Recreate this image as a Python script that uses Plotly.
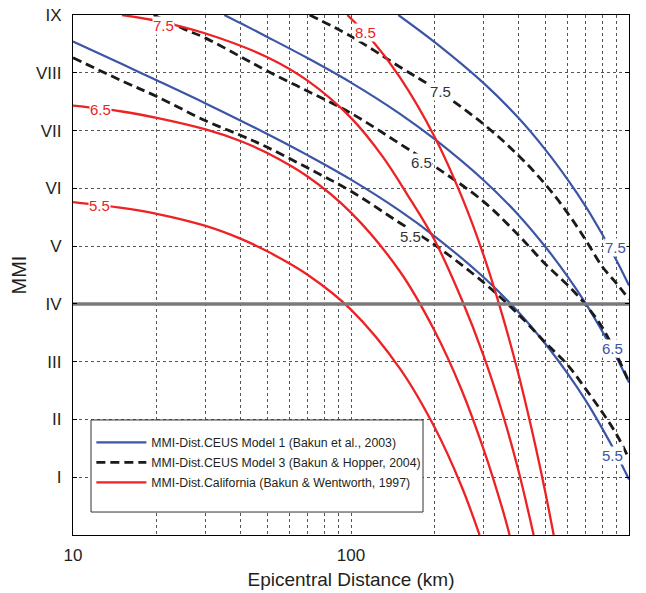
import math
import plotly.graph_objects as go

# ---------------- data ----------------
# MMI-Dist.CEUS Model 1 (Bakun et al., 2003) – blue
ceus1_m55_dist = [10, 15, 20, 30, 50, 70, 100, 150, 200, 300, 400, 500, 600, 700, 800, 900, 1000]
ceus1_m55_mmi = [8.54, 8.15, 7.87, 7.47, 6.94, 6.57, 6.15, 5.61, 5.17, 4.46, 3.86, 3.31, 2.80, 2.32, 1.85, 1.40, 0.96]
ceus1_m65_dist = [35, 40, 50, 70, 100, 150, 200, 300, 400, 500, 600, 700, 800, 900, 1000]
ceus1_m65_mmi = [9.0, 8.86, 8.62, 8.25, 7.83, 7.29, 6.85, 6.14, 5.54, 4.99, 4.48, 4.00, 3.53, 3.08, 2.64]
ceus1_m75_dist = [148, 200, 300, 400, 500, 600, 700, 800, 900, 1000]
ceus1_m75_mmi = [9.0, 8.53, 7.82, 7.22, 6.67, 6.16, 5.68, 5.21, 4.76, 4.32]

# MMI-Dist.CEUS Model 3 (Bakun & Hopper, 2004) – black dashed
ceus3_m55_dist = [10, 15, 20, 30, 40, 50, 70, 100, 150, 200, 300, 400, 500, 600, 700, 800, 900, 1000]
ceus3_m55_mmi = [8.26, 7.86, 7.59, 7.17, 6.92, 6.71, 6.35, 5.95, 5.40, 5.02, 4.37, 3.82, 3.33, 2.95, 2.52, 2.13, 1.75, 1.32]
ceus3_m65_dist = [19.5, 25, 30, 40, 50, 70, 100, 150, 200, 300, 400, 500, 600, 700, 800, 900, 1000]
ceus3_m65_mmi = [9.0, 8.76, 8.60, 8.28, 8.03, 7.68, 7.30, 6.77, 6.38, 5.77, 5.19, 4.69, 4.33, 3.98, 3.60, 3.13, 2.65]
ceus3_m75_dist = [71, 100, 150, 200, 300, 400, 500, 600, 700, 800, 900, 1000]
ceus3_m75_mmi = [9.0, 8.63, 8.10, 7.73, 7.11, 6.57, 6.07, 5.58, 5.10, 4.65, 4.36, 4.08]

# MMI-Dist.California (Bakun & Wentworth, 1997) – red
ca_m55_dist = [10, 15, 20, 30, 40, 50, 70, 100, 150, 200, 250, 290]
ca_m55_mmi = [5.76, 5.66, 5.56, 5.35, 5.13, 4.91, 4.50, 3.90, 2.88, 1.86, 0.84, 0.0]
ca_m65_dist = [10, 15, 20, 30, 40, 50, 70, 100, 150, 200, 250, 300, 350, 372]
ca_m65_mmi = [7.43, 7.33, 7.22, 7.02, 6.82, 6.61, 6.20, 5.58, 4.56, 3.53, 2.51, 1.48, 0.46, 0.0]
ca_m75_dist = [15, 20, 30, 50, 70, 100, 130, 160, 200, 250, 300, 350, 400, 454]
ca_m75_mmi = [9.0, 8.90, 8.68, 8.27, 7.86, 7.22, 6.55, 5.88, 5.10, 4.08, 3.10, 2.12, 1.12, 0.0]
ca_m85_dist = [97, 120, 150, 200, 250, 300, 350, 400, 450, 500, 536]
ca_m85_mmi = [9.0, 8.54, 7.92, 6.89, 5.86, 4.84, 3.81, 2.79, 1.76, 0.74, 0.0]

# magnitude labels on the curves
ceus1_label_text = ["5.5", "6.5", "7.5"]
ceus1_label_dist = [875, 869, 891]
ceus1_label_mmi = [1.38, 3.23, 4.97]
ceus3_label_text = ["5.5", "6.5", "7.5"]
ceus3_label_dist = [164, 180, 209]
ceus3_label_mmi = [5.16, 6.44, 7.67]
ca_label_text = ["5.5", "6.5", "7.5", "8.5"]
ca_label_dist = [12.5, 12.6, 21.1, 113]
ca_label_mmi = [5.70, 7.36, 8.81, 8.69]

# axis ticks
x_grid_vals = [10, 20, 30, 40, 50, 60, 70, 80, 90, 100, 200, 300, 400, 500, 600, 700, 800, 900, 1000]
x_tick_text = ["10", "", "", "", "", "", "", "", "", "100", "", "", "", "", "", "", "", "", "1000"]
y_tick_vals = [1, 2, 3, 4, 5, 6, 7, 8, 9]
y_tick_text = ["I", "II", "III", "IV", "V", "VI", "VII", "VIII", "IX"]
threshold_mmi = 4

# ---------------- styles ----------------
FONT = "Liberation Sans, Arial, Helvetica, sans-serif"
BLUE = "#3b56a6"
BLACK = "#1a1a1a"
RED = "#ec2224"

fig = go.Figure()

series = [
    ("MMI-Dist.CEUS Model 1 (Bakun et al., 2003)", "g1", dict(color=BLUE, width=2.2),
     [(ceus1_m55_dist, ceus1_m55_mmi), (ceus1_m65_dist, ceus1_m65_mmi), (ceus1_m75_dist, ceus1_m75_mmi)]),
    ("MMI-Dist.CEUS Model 3 (Bakun & Hopper, 2004)", "g2", dict(color=BLACK, width=2.8, dash="9px,5px"),
     [(ceus3_m55_dist, ceus3_m55_mmi), (ceus3_m65_dist, ceus3_m65_mmi), (ceus3_m75_dist, ceus3_m75_mmi)]),
    ("MMI-Dist.California (Bakun & Wentworth, 1997)", "g3", dict(color=RED, width=2.3),
     [(ca_m55_dist, ca_m55_mmi), (ca_m65_dist, ca_m65_mmi), (ca_m75_dist, ca_m75_mmi), (ca_m85_dist, ca_m85_mmi)]),
]

for name, grp, line, curves in series:
    for i, (d, m) in enumerate(curves):
        fig.add_trace(go.Scatter(
            x=d, y=m, mode="lines", name=name, legendgroup=grp,
            showlegend=(i == 0), line=dict(shape="spline", smoothing=1.0, **line),
            hoverinfo="skip"))

# MMI IV threshold line
fig.add_trace(go.Scatter(
    x=[x_grid_vals[0], x_grid_vals[-1]], y=[threshold_mmi, threshold_mmi],
    mode="lines", line=dict(color="#7a7a7a", width=3.5), showlegend=False, hoverinfo="skip"))

annotations = []
for texts, dists, mmis, col in [
    (ceus1_label_text, ceus1_label_dist, ceus1_label_mmi, BLUE),
    (ceus3_label_text, ceus3_label_dist, ceus3_label_mmi, "#333333"),
    (ca_label_text, ca_label_dist, ca_label_mmi, RED),
]:
    for t, d, m in zip(texts, dists, mmis):
        annotations.append(dict(
            x=math.log10(d), y=m, xref="x", yref="y", text=t, showarrow=False,
            font=dict(family=FONT, size=15, color=col), bgcolor="white", borderpad=0))

fig.update_layout(
    width=646, height=593, autosize=False,
    margin=dict(l=73, r=17, t=15, b=58, autoexpand=False),
    paper_bgcolor="white", plot_bgcolor="white",
    font=dict(family=FONT, color="#231f20"),
    annotations=annotations,
    shapes=[dict(type="rect", xref="paper", yref="paper",
                 x0=0.0324, x1=0.6295, y0=0.0442, y1=0.2212,
                 line=dict(color="#333333", width=1), fillcolor="white", layer="above")],
    legend=dict(x=0.033, y=0.206, xanchor="left", yanchor="top",
                bgcolor="rgba(0,0,0,0)", borderwidth=0,
                font=dict(family=FONT, size=12.3, color="#231f20"),
                traceorder="grouped", tracegroupgap=1, itemwidth=50),
    xaxis=dict(type="log", range=[1, 3], tickvals=x_grid_vals, ticktext=x_tick_text,
               showgrid=True, gridcolor="#555555", gridwidth=1, griddash="dot",
               showline=True, mirror=True, linecolor="black", linewidth=1.2,
               ticks="", zeroline=False, tickfont=dict(size=17), automargin=False,
               ticklabelstandoff=4,
               title=dict(text="Epicentral Distance (km)", font=dict(size=19), standoff=9)),
    yaxis=dict(range=[0, 9], tickvals=y_tick_vals, ticktext=y_tick_text,
               showgrid=True, gridcolor="#555555", gridwidth=1, griddash="dot",
               showline=True, mirror="ticks", linecolor="black", linewidth=1.2,
               ticks="inside", ticklen=4, tickcolor="black", zeroline=False,
               tickfont=dict(size=17), ticklabelstandoff=7, automargin=False,
               title=dict(text="MMI", font=dict(size=20), standoff=3)),
)

fig.write_html("out.html")
